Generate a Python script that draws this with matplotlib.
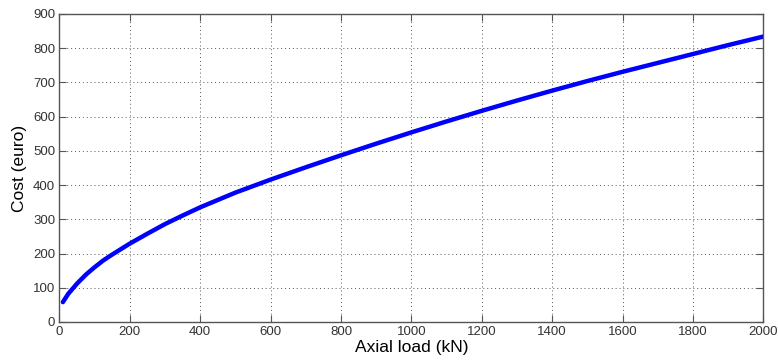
import matplotlib
matplotlib.use("Agg")
import matplotlib.pyplot as plt

plt.rcParams['font.family'] = ['Liberation Sans', 'DejaVu Sans']

# data
axial_load = [10, 25, 50, 75, 100, 125, 150, 200, 250, 300, 350, 400, 500, 600,
              700, 800, 900, 1000, 1100, 1200, 1300, 1400, 1500, 1600, 1700,
              1800, 1900, 2000]
cost = [58, 82, 112, 138, 160, 180, 197, 229, 258, 286, 311, 335, 378, 416,
        452, 487, 521, 554, 586, 617, 647, 676, 704, 731, 757,
        783, 809, 834]

x_ticks = list(range(0, 2001, 200))
y_ticks = list(range(0, 901, 100))

fig = plt.figure(figsize=(7.78, 3.62), dpi=100)
ax = fig.add_axes([0.0763, 0.1105, 0.905, 0.851])

ax.plot(axial_load, cost, color='#0000ff', linewidth=3.2, solid_capstyle='round',
        solid_joinstyle='round')

ax.set_xlim(0, 2000)
ax.set_ylim(0, 900)
ax.set_xticks(x_ticks)
ax.set_yticks(y_ticks)
ax.tick_params(direction='in', length=5, width=0.8, top=True, right=True,
               labelsize=9.5, labelcolor='#333333', color='#555555', pad=3)
ax.grid(True, linestyle=(0, (1, 3)), color='#555555', linewidth=0.7)
for s in ax.spines.values():
    s.set_color('#555555')
    s.set_linewidth(1.0)

ax.set_xlabel('Axial load (kN)', fontsize=12.5, labelpad=1)
ax.set_ylabel('Cost (euro)', fontsize=12.5, labelpad=4)

fig.savefig('out.png', dpi=100)
